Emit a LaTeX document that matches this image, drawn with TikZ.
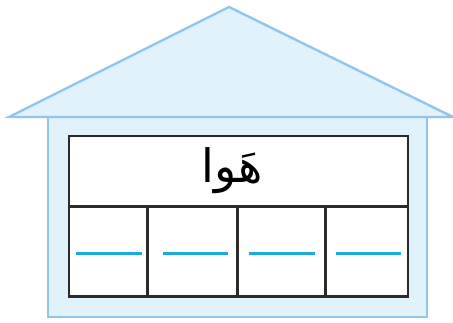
\documentclass[tikz,border=0pt]{standalone}
\usepackage{fontspec}
\newfontfamily\arabicfont[Script=Arabic]{DejaVu Sans}
\TeXXeTstate=1
\definecolor{roofFill}{HTML}{E0F2FB}
\definecolor{roofLine}{HTML}{92C5EB}
\definecolor{gridLine}{HTML}{2B2B2B}
\definecolor{dashBlue}{HTML}{1EA7E1}
\tikzset{
  housepart/.style={fill=roofFill,draw=roofLine,line width=2.4pt,line join=miter},
  gridbox/.style={draw=gridLine,fill=white,line width=2.2pt},
  gridsep/.style={draw=gridLine,line width=2.2pt},
  blank/.style={draw=dashBlue,line width=2.4pt}
}
\begin{document}
\begin{tikzpicture}[x=1pt,y=-1pt]
\useasboundingbox (0,0) rectangle (453,322);
% body
\draw[housepart] (48,117) rectangle (427,317);
% roof
\draw[housepart] (9,117) -- (229,7) -- (453,117) -- cycle;
% table
\draw[gridbox] (69,136) rectangle (408,296.5);
\draw[gridsep] (69,206.5) -- (408,206.5);
\draw[gridsep] (147.5,206.5) -- (147.5,296.5);
\draw[gridsep] (237.5,206.5) -- (237.5,296.5);
\draw[gridsep] (325.5,206.5) -- (325.5,296.5);
% word
\node (word) at (232,171) {\arabicfont\fontsize{46}{48}\selectfont\beginR هَوا\endR};
% blanks
\draw[blank] (76,253.3) -- (141.5,253.3);
\draw[blank] (162.5,253.3) -- (228,253.3);
\draw[blank] (249,253.3) -- (314.5,253.3);
\draw[blank] (335.5,253.3) -- (401,253.3);
\end{tikzpicture}
\end{document}
